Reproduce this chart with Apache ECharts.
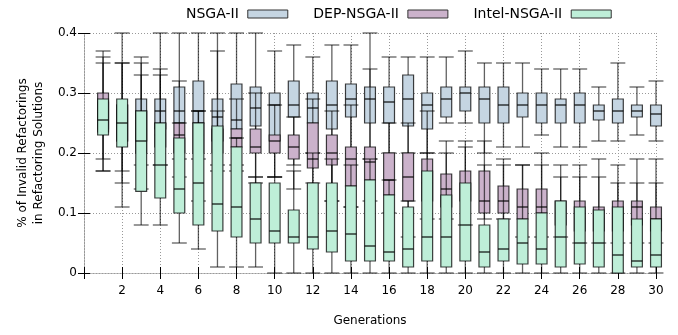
<!DOCTYPE html>
<html>
<head>
<meta charset="utf-8">
<script src="https://cdn.jsdelivr.net/npm/echarts@6/dist/echarts.min.js"></script>
<style>
html,body{margin:0;padding:0;background:#fff;}
#chart{width:678px;height:335px;}
</style>
</head>
<body>
<div id="chart"></div>
<script>
// Generations (x categories)
const generations = [1,2,3,4,5,6,7,8,9,10,11,12,13,14,15,16,17,18,19,20,21,22,23,24,25,26,27,28,29,30];
const xTickLabels = ['','2','4','6','8','10','12','14','16','18','20','22','24','26','28','30'];
const yTickLabels = ['0','0.1','0.2','0.3','0.4'];
const seriesNames = ['NSGA-II','DEP-NSGA-II','Intel-NSGA-II'];

// [min, Q1, median, Q3, max] per generation
const nsga = [
  [0.17,0.24,0.26,0.285,0.37],[0.11,0.22,0.25,0.28,0.40],[0.18,0.22,0.25,0.29,0.36],[0.18,0.24,0.27,0.29,0.40],
  [0.19,0.25,0.27,0.31,0.40],[0.19,0.25,0.27,0.32,0.40],[0.17,0.22,0.26,0.29,0.40],[0.18,0.24,0.255,0.315,0.40],
  [0.16,0.245,0.275,0.31,0.40],[0.16,0.22,0.28,0.30,0.37],[0.18,0.26,0.28,0.32,0.38],[0.20,0.25,0.275,0.30,0.36],
  [0.12,0.24,0.28,0.32,0.38],[0.11,0.26,0.29,0.315,0.38],[0.19,0.25,0.29,0.31,0.40],[0.20,0.25,0.285,0.31,0.36],
  [0.20,0.245,0.29,0.33,0.36],[0.20,0.24,0.28,0.30,0.36],[0.25,0.26,0.29,0.31,0.36],[0.25,0.27,0.30,0.31,0.37],
  [0.20,0.25,0.29,0.31,0.35],[0.21,0.25,0.28,0.31,0.35],[0.21,0.26,0.28,0.30,0.35],[0.23,0.25,0.28,0.30,0.34],
  [0.21,0.25,0.28,0.29,0.34],[0.21,0.25,0.28,0.30,0.34],[0.22,0.255,0.27,0.28,0.31],[0.22,0.25,0.27,0.29,0.35],
  [0.23,0.26,0.27,0.28,0.31],[0.22,0.245,0.265,0.28,0.32]
];
const depNsga = [
  [0.19,0.235,0.26,0.30,0.36],[0.15,0.22,0.25,0.28,0.35],[0.14,0.20,0.24,0.27,0.35],[0.18,0.21,0.23,0.25,0.34],
  [0.16,0.20,0.23,0.25,0.32],[0.12,0.20,0.23,0.25,0.27],[0.18,0.20,0.22,0.24,0.27],[0.17,0.21,0.225,0.24,0.29],
  [0.15,0.20,0.21,0.24,0.30],[0.16,0.20,0.22,0.23,0.28],[0.14,0.19,0.21,0.23,0.26],[0.15,0.175,0.19,0.25,0.29],
  [0.12,0.18,0.20,0.23,0.27],[0.11,0.145,0.19,0.21,0.28],[0.12,0.155,0.185,0.21,0.34],[0.10,0.13,0.155,0.20,0.25],
  [0.06,0.12,0.16,0.20,0.25],[0.09,0.12,0.15,0.19,0.27],[0.09,0.11,0.14,0.165,0.22],[0.08,0.12,0.14,0.17,0.22],
  [0.09,0.10,0.12,0.17,0.22],[0.09,0.10,0.12,0.145,0.19],[0.06,0.09,0.11,0.14,0.18],[0.06,0.10,0.11,0.14,0.20],
  [0.06,0.08,0.10,0.12,0.18],[0.05,0.07,0.09,0.12,0.18],[0.05,0.07,0.09,0.11,0.19],[0.05,0.07,0.09,0.12,0.18],
  [0.05,0.08,0.11,0.12,0.19],[0.05,0.07,0.09,0.11,0.19]
];
const intelNsga = [
  [0.17,0.23,0.255,0.29,0.35],[0.17,0.21,0.25,0.29,0.35],[0.08,0.136,0.22,0.27,0.33],[0.08,0.125,0.18,0.25,0.33],
  [0.05,0.10,0.14,0.225,0.25],[0.04,0.08,0.15,0.25,0.27],[0.01,0.07,0.115,0.245,0.37],[0.01,0.06,0.11,0.21,0.225],
  [0.01,0.05,0.09,0.15,0.16],[0.00,0.05,0.07,0.15,0.16],[0.00,0.05,0.06,0.105,0.17],[0.00,0.04,0.06,0.15,0.20],
  [0.00,0.035,0.07,0.15,0.19],[0.00,0.02,0.065,0.145,0.18],[0.00,0.02,0.045,0.155,0.19],[0.00,0.02,0.035,0.13,0.155],
  [0.00,0.01,0.04,0.11,0.12],[0.00,0.02,0.06,0.17,0.20],[0.00,0.01,0.06,0.13,0.20],[0.00,0.02,0.08,0.15,0.21],
  [0.00,0.01,0.035,0.08,0.18],[0.00,0.02,0.04,0.09,0.18],[0.00,0.015,0.05,0.09,0.18],[0.00,0.015,0.04,0.10,0.18],
  [0.00,0.01,0.06,0.12,0.16],[0.00,0.015,0.05,0.11,0.16],[0.00,0.01,0.05,0.105,0.16],[0.00,0.00,0.03,0.11,0.15],
  [0.00,0.01,0.02,0.09,0.15],[0.00,0.01,0.03,0.09,0.15]
];

const colors = ['#c5d5e2','#cbb2cb','#beeed8'];
const BOX_W = 0.57, CAP_W = 0.78;
const FONT = 'DejaVu Sans';

function makeRender(fill) {
  return function (params, api) {
    const x = api.value(0);
    const pMin = api.coord([x, api.value(1)]);
    const pQ1 = api.coord([x, api.value(2)]);
    const pMed = api.coord([x, api.value(3)]);
    const pQ3 = api.coord([x, api.value(4)]);
    const pMax = api.coord([x, api.value(5)]);
    const bw = api.size([BOX_W, 0])[0];
    const cw = api.size([CAP_W, 0])[0];
    const cx = pMed[0];
    const ws = {stroke: 'rgba(0,0,0,0.62)', lineWidth: 1.3, fill: null};
    return {
      type: 'group',
      children: [
        {type:'line', shape:{x1:cx, y1:pQ3[1], x2:cx, y2:pMax[1]}, style:ws},
        {type:'line', shape:{x1:cx, y1:pQ1[1], x2:cx, y2:pMin[1]}, style:ws},
        {type:'line', shape:{x1:cx-cw/2, y1:pMax[1], x2:cx+cw/2, y2:pMax[1]}, style:ws},
        {type:'line', shape:{x1:cx-cw/2, y1:pMin[1], x2:cx+cw/2, y2:pMin[1]}, style:ws},
        {type:'rect', shape:{x:cx-bw/2, y:pQ3[1], width:bw, height:pQ1[1]-pQ3[1]},
          style:{fill: fill, stroke:'rgba(0,0,0,0.75)', lineWidth:1.2}},
        {type:'line', shape:{x1:cx-bw/2, y1:pMed[1], x2:cx+bw/2, y2:pMed[1]},
          style:{stroke:'rgba(0,0,0,0.88)', lineWidth:1.3, fill:null}}
      ]
    };
  };
}

function buildData(arr) {
  return generations.map((g, i) => [g].concat(arr[i]));
}

const allSeries = [nsga, depNsga, intelNsga].map((arr, k) => ({
  name: seriesNames[k],
  type: 'custom',
  xAxisIndex: 0,
  yAxisIndex: 0,
  color: colors[k],
  itemStyle: {color: colors[k]},
  renderItem: makeRender(colors[k]),
  encode: {x: 0, y: [1,2,3,4,5]},
  clip: false,
  data: buildData(arr)
}));

const dotted = {color: '#999', type: [1, 2], width: 1};
const tick = {show: true, inside: true, length: 6, lineStyle: {color: '#000', width: 1}};

const chart = echarts.init(document.getElementById('chart'), null, {renderer: 'canvas'});
chart.setOption({
  animation: false,
  backgroundColor: '#fff',
  textStyle: {fontFamily: FONT},
  legend: {
    left: 181,
    top: 2,
    align: 'right',
    itemWidth: 40,
    itemHeight: 8,
    itemGap: 25,
    textStyle: {fontFamily: FONT, fontSize: 14, color: '#000', padding: [0, 4, 0, 0]},
    data: seriesNames.map((n, k) => ({
      name: n, icon: 'rect',
      itemStyle: {color: colors[k], borderColor: '#333', borderWidth: 1}
    }))
  },
  grid: {left: 84, right: 22, top: 33, bottom: 62, containLabel: false},
  xAxis: [
    {
      type: 'value', min: 0, max: 30, interval: 2, position: 'bottom',
      name: 'Generations', nameLocation: 'middle', nameGap: 42,
      nameTextStyle: {fontFamily: FONT, fontSize: 12, color: '#000'},
      axisLine: {show: true, lineStyle: dotted},
      axisTick: tick,
      axisLabel: {fontFamily: FONT, fontSize: 12, color: '#000', margin: 12,
        formatter: function (v) { return xTickLabels[Math.round(v / 2)]; }},
      splitLine: {show: true, lineStyle: dotted}
    },
    {
      type: 'value', min: 0, max: 30, interval: 2, position: 'top',
      axisLine: {show: true, lineStyle: dotted},
      axisTick: tick, axisLabel: {show: false}, splitLine: {show: false}
    }
  ],
  yAxis: [
    {
      type: 'value', min: 0, max: 0.4, interval: 0.1, position: 'left',
      name: '% of Invalid Refactorings\nin Refactoring Solutions',
      nameLocation: 'middle', nameRotate: 90, nameGap: 30,
      nameTextStyle: {fontFamily: FONT, fontSize: 12, color: '#000', lineHeight: 16},
      axisLine: {show: true, lineStyle: dotted},
      axisTick: tick,
      axisLabel: {fontFamily: FONT, fontSize: 12, color: '#000', margin: 7,
        formatter: function (v) { return yTickLabels[Math.round(v * 10)]; }},
      splitLine: {show: true, lineStyle: dotted}
    },
    {
      type: 'value', min: 0, max: 0.4, interval: 0.1, position: 'right',
      axisLine: {show: true, lineStyle: dotted},
      axisTick: tick, axisLabel: {show: false}, splitLine: {show: false}
    }
  ],
  series: allSeries
});
</script>
</body>
</html>
